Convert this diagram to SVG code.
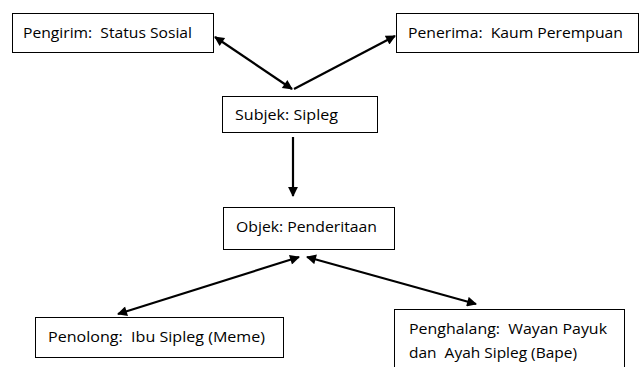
<svg xmlns="http://www.w3.org/2000/svg" width="640" height="367" viewBox="0 0 640 367">
<style>
.box{fill:#fff;stroke:#000;stroke-width:1}
.t{font-family:"Open Sans","Liberation Sans",Arial,sans-serif;font-size:15px;fill:#000;white-space:pre}
.c{stroke:#000;stroke-width:2.2;fill:none}
</style>
<defs>
<marker id="ah" viewBox="0 0 10 10" refX="9" refY="5" markerWidth="5.5" markerHeight="4.5" orient="auto-start-reverse" markerUnits="strokeWidth">
<path d="M0,0 L10,5 L0,10 z" fill="#000"/>
</marker>
</defs>
<rect width="640" height="367" fill="#fff"/>
<g id="pengirim"><rect class="box" x="12.5" y="13.5" width="201" height="39"/><text class="t" x="23" y="38" textLength="169" lengthAdjust="spacingAndGlyphs" xml:space="preserve">Pengirim:  Status Sosial</text></g>
<g id="penerima"><rect class="box" x="396.5" y="13.5" width="242" height="39"/><text class="t" x="408" y="38" textLength="215" lengthAdjust="spacingAndGlyphs" xml:space="preserve">Penerima:  Kaum Perempuan</text></g>
<g id="subjek"><rect class="box" x="222.5" y="96.5" width="155" height="36"/><text class="t" x="235" y="120" textLength="103" lengthAdjust="spacingAndGlyphs">Subjek: Sipleg</text></g>
<g id="objek"><rect class="box" x="223.5" y="207.5" width="171" height="42"/><text class="t" x="236" y="232" textLength="141" lengthAdjust="spacingAndGlyphs">Objek: Penderitaan</text></g>
<g id="penolong"><rect class="box" x="35.5" y="317.5" width="248" height="40"/><text class="t" x="48" y="342" textLength="217" lengthAdjust="spacingAndGlyphs" xml:space="preserve">Penolong:  Ibu Sipleg (Meme)</text></g>
<g id="penghalang"><rect class="box" x="394.5" y="309.5" width="230" height="70"/><text class="t" x="409" y="334" textLength="198" lengthAdjust="spacingAndGlyphs" xml:space="preserve">Penghalang:  Wayan Payuk</text><text class="t" x="409" y="358" textLength="168" lengthAdjust="spacingAndGlyphs" xml:space="preserve">dan  Ayah Sipleg (Bape)</text></g>
<g id="connectors">
<line class="c" x1="215" y1="37" x2="292" y2="89" marker-start="url(#ah)" marker-end="url(#ah)"/>
<line class="c" x1="294" y1="89" x2="395" y2="36" marker-end="url(#ah)"/>
<line class="c" x1="293" y1="137" x2="293" y2="196" marker-end="url(#ah)"/>
<line class="c" x1="118" y1="314" x2="299" y2="257" marker-start="url(#ah)" marker-end="url(#ah)"/>
<line class="c" x1="307" y1="257" x2="476" y2="304" marker-start="url(#ah)" marker-end="url(#ah)"/>
</g>
</svg>
